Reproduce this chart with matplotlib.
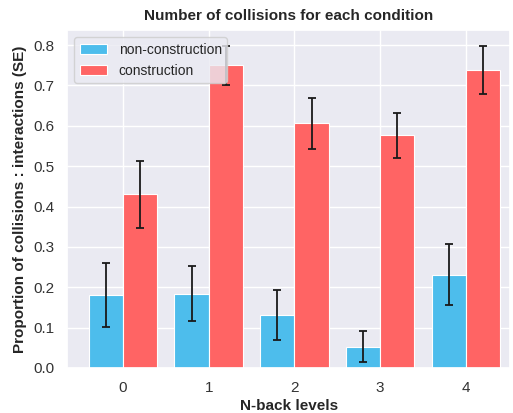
import numpy as np
import matplotlib
matplotlib.use('Agg')
import matplotlib.pyplot as plt
import seaborn as sns

sns.set_theme(style='darkgrid')
plt.rcParams['font.family'] = ['Liberation Sans', 'DejaVu Sans']

levels = ['0', '1', '2', '3', '4']
non_construction = [0.181, 0.184, 0.131, 0.053, 0.231]
non_construction_se = [0.079, 0.068, 0.062, 0.038, 0.075]
construction = [0.430, 0.750, 0.606, 0.576, 0.739]
construction_se = [0.083, 0.048, 0.064, 0.055, 0.059]

x = np.arange(len(levels))
width = 0.4

fig = plt.figure(figsize=(5.13, 4.13), dpi=100)
ax = fig.add_axes([0.131, 0.109, 0.864, 0.818])

ax.bar(x - width / 2, non_construction, width, yerr=non_construction_se,
       color='#4dbdec', edgecolor='white', linewidth=0.8, capsize=3,
       error_kw={'elinewidth': 1.3, 'capthick': 1.3, 'ecolor': '#1a1a1a'},
       label='non-construction')
ax.bar(x + width / 2, construction, width, yerr=construction_se,
       color='#ff6464', edgecolor='white', linewidth=0.8, capsize=3,
       error_kw={'elinewidth': 1.3, 'capthick': 1.3, 'ecolor': '#1a1a1a'},
       label='construction')

ax.set_xticks(x)
ax.set_xticklabels(levels)
ax.set_xlim(-0.65, 4.52)
ax.set_ylim(0, 0.837)
ax.set_yticks(np.arange(0, 0.81, 0.1))
ax.tick_params(labelsize=11, colors='#333333')

ax.set_title('Number of collisions for each condition', fontsize=11, fontweight='bold', color='#262626', pad=7)
ax.set_xlabel('N-back levels', fontsize=11, fontweight='bold', color='#262626', labelpad=3)
ax.set_ylabel('Proportion of collisions : interactions (SE)', fontsize=11, fontweight='bold', color='#262626', labelpad=4)
ax.legend(loc='upper left', fontsize=10)

fig.savefig('out.png', dpi=100)
